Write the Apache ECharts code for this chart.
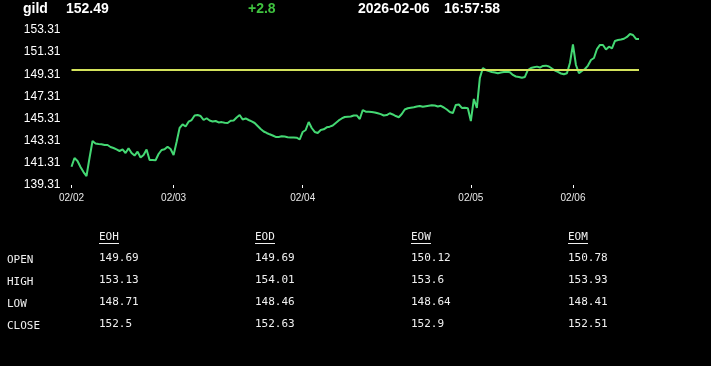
<!DOCTYPE html>
<html><head><meta charset="utf-8">
<script src="https://cdn.jsdelivr.net/npm/echarts@6/dist/echarts.min.js"></script>
<style>html,body{margin:0;padding:0;background:#000;}#c{width:711px;height:366px;}</style>
</head><body><div id="c"></div>
<script>
// ---- data ----
const symbol = 'gild';
const lastPrice = '152.49';
const change = '+2.8';
const dateStr = '2026-02-06';
const timeStr = '16:57:58';
const prevClose = 149.69;

const dayNames = ['02/02', '02/03', '02/04', '02/05', '02/06'];
const dayStartIdx = [0, 34, 77, 133, 167];

const yTicks = [139.31, 141.31, 143.31, 145.31, 147.31, 149.31, 151.31, 153.31];

const prices = [
  140.96, 141.75, 141.48, 140.94, 140.48, 140.12, 141.75, 143.28, 143.06, 143.01,
  142.99, 142.92, 142.92, 142.74, 142.65, 142.52, 142.38, 142.52, 142.20, 142.63,
  142.20, 141.97, 142.32, 141.79, 142.02, 142.52, 141.57, 141.57, 141.55, 142.11,
  142.47, 142.53, 142.77, 142.56, 142.02, 143.19, 144.46, 144.78, 144.59, 145.03,
  145.18, 145.59, 145.63, 145.54, 145.18, 145.34, 145.14, 145.05, 145.09, 144.96,
  144.99, 144.93, 144.91, 145.12, 145.14, 145.41, 145.63, 145.23, 145.32, 145.18,
  145.05, 144.91, 144.64, 144.37, 144.14, 144.01, 143.89, 143.78, 143.65, 143.65,
  143.71, 143.69, 143.62, 143.60, 143.60, 143.58, 143.42, 144.10, 144.28, 145.00,
  144.46, 144.10, 144.01, 144.28, 144.34, 144.52, 144.58, 144.68, 144.91, 145.14,
  145.32, 145.45, 145.48, 145.50, 145.59, 145.59, 145.27, 146.08, 145.93, 145.93,
  145.90, 145.86, 145.79, 145.71, 145.59, 145.63, 145.79, 145.68, 145.54, 145.43,
  145.72, 146.13, 146.24, 146.29, 146.33, 146.40, 146.45, 146.38, 146.43, 146.47,
  146.51, 146.49, 146.40, 146.46, 146.31, 146.13, 145.90, 145.81, 146.54, 146.58,
  146.27, 146.28, 146.24, 145.09, 147.08, 146.27, 148.98, 149.88, 149.70, 149.61,
  149.52, 149.47, 149.41, 149.47, 149.52, 149.54, 149.49, 149.25, 149.11, 149.07,
  149.00, 149.07, 149.70, 149.88, 149.94, 150.00, 149.92, 150.06, 150.09, 150.01,
  149.83, 149.65, 149.52, 149.38, 149.31, 149.40, 150.33, 152.00, 150.15, 149.42,
  149.61, 149.79, 150.10, 150.60, 150.78, 151.59, 151.96, 151.96, 151.55, 151.80,
  151.66, 152.32, 152.41, 152.45, 152.52, 152.68, 152.95, 152.86, 152.50, 152.49
];

const rowLabels = ['OPEN', 'HIGH', 'LOW', 'CLOSE'];
const colHeaders = ['EOH', 'EOD', 'EOW', 'EOM'];
const eohVals = ['149.69', '153.13', '148.71', '152.5'];
const eodVals = ['149.69', '154.01', '148.46', '152.63'];
const eowVals = ['150.12', '153.6', '148.64', '152.9'];
const eomVals = ['150.78', '153.93', '148.41', '152.51'];
const colValues = [eohVals, eodVals, eowVals, eomVals];

// ---- build ----
const categories = prices.map((_, i) => {
  let d = 0;
  for (let k = 0; k < dayStartIdx.length; k++) if (i >= dayStartIdx[k]) d = k;
  return dayNames[d];
});
const isDayStart = (i) => dayStartIdx.indexOf(i) >= 0;

const sans = '"Liberation Sans", Arial, sans-serif';
const mono = '"DejaVu Sans Mono", "Liberation Mono", monospace';

const graphics = [];
function txt(x, y, text, font, fill, align) {
  graphics.push({ type: 'text', left: undefined, x: x, y: y, silent: true,
    style: { text: text, font: font, fill: fill, align: align || 'left', verticalAlign: 'middle' } });
}
txt(23, 9, symbol, 'bold 14px ' + sans, '#fff');
txt(66, 9, lastPrice, 'bold 14px ' + sans, '#fff');
txt(248, 9, change, 'bold 14px ' + sans, '#3fc23f');
txt(358, 9, dateStr, 'bold 14px ' + sans, '#fff');
txt(444, 9, timeStr, 'bold 14px ' + sans, '#fff');

const colX = [99, 255, 411, 568];
const rowY = [258, 280, 302, 324];
rowLabels.forEach((r, k) => txt(7, rowY[k] + 2, r, '11px ' + mono, '#f0f0f0'));
colHeaders.forEach((h, c) => {
  txt(colX[c], 237.5, h, '11px ' + mono, '#f0f0f0');
  graphics.push({ type: 'line', silent: true,
    shape: { x1: colX[c], y1: 243.5, x2: colX[c] + 20, y2: 243.5 },
    style: { stroke: '#f0f0f0', lineWidth: 1 } });
  colValues[c].forEach((v, k) => txt(colX[c], rowY[k], v, '11px ' + mono, '#f0f0f0'));
});

const chart = echarts.init(document.getElementById('c'), null, { renderer: 'canvas' });
chart.setOption({
  backgroundColor: '#000',
  animation: false,
  grid: { left: 71.5, right: 72, top: 30, height: 155, containLabel: false },
  xAxis: {
    type: 'category', data: categories, boundaryGap: false,
    axisLine: { show: false },
    axisTick: { show: true, interval: (i) => isDayStart(i), length: 3, lineStyle: { color: '#fff', width: 1 } },
    axisLabel: { interval: (i) => isDayStart(i), color: '#e8e8e8', fontSize: 10, fontFamily: sans, margin: 8 },
    splitLine: { show: false }
  },
  yAxis: {
    type: 'value', min: yTicks[0], max: yTicks[yTicks.length - 1],
    axisLine: { show: false }, axisTick: { show: false }, splitLine: { show: false },
    axisLabel: { customValues: yTicks, formatter: (v) => v.toFixed(2), color: '#fff', fontSize: 12, fontFamily: sans, margin: 11 }
  },
  series: [{
    type: 'line', data: prices, showSymbol: false, symbol: 'none',
    lineStyle: { color: '#44d873', width: 2 },
    markLine: {
      silent: true, symbol: 'none', label: { show: false },
      lineStyle: { color: '#d4e35c', width: 2, type: 'solid' },
      data: [{ yAxis: prevClose }]
    }
  }],
  graphic: graphics
});
</script>
</body></html>
